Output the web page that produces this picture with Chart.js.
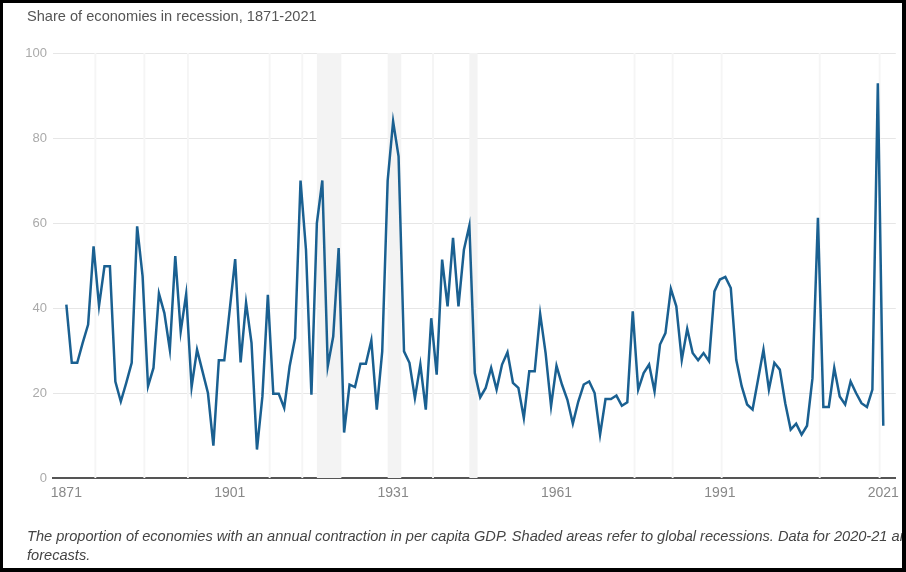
<!DOCTYPE html>
<html>
<head>
<meta charset="utf-8">
<script src="https://cdn.jsdelivr.net/npm/chart.js@4.4.1/dist/chart.umd.min.js"></script>
<style>
  html, body { margin: 0; padding: 0; background: #fff; }
  #wrap { position: relative; width: 906px; height: 572px; overflow: hidden; font-family: "Liberation Sans", Arial, sans-serif; }
  #chart { position: absolute; left: 0; top: 0; }
  #title { position: absolute; left: 27px; top: 8px; font-size: 14.6px; color: #555; white-space: nowrap; }
  #note { position: absolute; left: 27px; top: 527px; width: 925px; font-size: 14.6px; line-height: 19px; font-style: italic; color: #444; }
  #frame { position: absolute; left: 0; top: 0; right: 0; bottom: 0; border-style: solid; border-color: #000; border-width: 3px 4px 4px 3px; pointer-events: none; }
</style>
</head>
<body>
<div id="wrap">
  <canvas id="chart" width="906" height="572"></canvas>
  <div id="title">Share of economies in recession, 1871-2021</div>
  <div id="note">The proportion of economies with an annual contraction in per capita GDP. Shaded areas refer to global recessions. Data for 2020-21 are forecasts.</div>
  <div id="frame"></div>
</div>
<script>
// years 1871..2021
var firstYear = 1871;
var lastYear = 2021;

// share of economies in recession (%), one value per year
var share = [
    40.8, 27.1, 27.1, 31.8, 36.1, 54.5, 40.5, 49.8, 49.8, 22.7,   // 1871-1880
    18.0, 22.4, 27.1, 59.2, 47.5, 21.6, 25.9, 43.4, 38.8, 30.2,   // 1881-1890
    52.2, 34.5, 43.3, 21.4, 30.2, 25.1, 20.0, 7.6, 27.7, 27.7,    // 1891-1900
    39.6, 51.5, 27.2, 41.2, 31.8, 6.7, 19.2, 43.1, 19.8, 19.8,    // 1901-1910
    16.5, 26.3, 32.9, 70.0, 53.7, 19.6, 60.0, 70.0, 26.3, 33.3,   // 1911-1920
    54.1, 10.7, 22.0, 21.4, 26.9, 26.9, 32.4, 16.1, 29.8, 70.0,   // 1921-1930
    83.9, 75.7, 29.8, 27.1, 18.8, 26.7, 16.1, 37.6, 24.3, 51.4,   // 1931-1940
    40.4, 56.5, 40.4, 53.7, 59.4, 24.7, 19.0, 21.2, 25.9, 20.8,   // 1941-1950
    26.7, 29.6, 22.4, 21.2, 14.1, 25.1, 25.1, 38.6, 29.4, 16.9,   // 1951-1960
    26.4, 22.0, 18.4, 12.8, 18.0, 22.0, 22.7, 20.0, 10.2, 18.6,   // 1961-1970
    18.6, 19.4, 17.0, 17.8, 39.2, 20.8, 24.7, 26.7, 20.4, 31.4,   // 1971-1980
    34.1, 44.5, 40.4, 27.8, 35.1, 29.4, 27.7, 29.4, 27.5, 43.9,   // 1981-1990
    46.7, 47.3, 44.7, 27.8, 21.6, 17.3, 16.1, 23.1, 30.2, 20.8,   // 1991-2000
    27.1, 25.5, 17.6, 11.4, 12.8, 10.2, 12.3, 23.5, 61.2, 16.7,   // 2001-2010
    16.7, 25.9, 19.2, 17.3, 22.7, 20.0, 17.6, 16.7, 20.8, 92.9,   // 2011-2020
    12.3                                                          // 2021
];

var xTicks = [1871, 1901, 1931, 1961, 1991, 2021];
var yTicks = [0, 20, 40, 60, 80, 100];

// global recessions: [first year, last year]
var recessions = [
    [1876, 1876], [1885, 1885], [1893, 1893], [1908, 1908], [1914, 1914],
    [1917, 1921], [1930, 1932], [1938, 1938], [1945, 1946],
    [1975, 1975], [1982, 1982], [1991, 1991], [2009, 2009], [2020, 2020]
];

var points = share.map(function (v, i) {
    return {x: firstYear + i, y: v};
});

var shadePlugin = {
    id: 'recessionShade',
    beforeDatasetsDraw: function (chart) {
        var ctx = chart.ctx;
        var xs = chart.scales.x;
        var area = chart.chartArea;
        ctx.save();
        recessions.forEach(function (r) {
            var single = r[0] === r[1];
            var x0 = xs.getPixelForValue(r[0] + (single ? 0.15 : 0));
            var x1 = xs.getPixelForValue(r[1] + 0.5);
            ctx.fillStyle = single ? '#f5f5f5' : '#f3f3f3';
            ctx.fillRect(x0, area.top, x1 - x0, area.bottom - area.top);
        });
        ctx.restore();
    }
};

new Chart(document.getElementById('chart'), {
    type: 'line',
    data: {
        datasets: [{
            data: points,
            borderColor: '#1a6091',
            borderWidth: 2.5,
            pointRadius: 0,
            tension: 0,
            fill: false
        }]
    },
    plugins: [shadePlugin],
    options: {
        responsive: false,
        animation: false,
        layout: {padding: {top: 53, right: 10, bottom: 64, left: 0}},
        plugins: {
            legend: {display: false},
            tooltip: {enabled: false}
        },
        scales: {
            x: {
                type: 'linear',
                min: firstYear - 2.45,
                max: lastYear + 2.3,
                afterBuildTicks: function (scale) {
                    scale.ticks = xTicks.map(function (v) { return {value: v}; });
                },
                afterFit: function (scale) { scale.height = 30; },
                grid: {display: false, drawTicks: false},
                border: {display: true, color: '#555', width: 2},
                ticks: {
                    autoSkip: false,
                    maxRotation: 0,
                    padding: 7,
                    color: '#888',
                    font: {family: '"Liberation Sans", Arial, sans-serif', size: 14},
                    callback: function (v) { return String(v); }
                }
            },
            y: {
                min: 0,
                max: 100,
                afterBuildTicks: function (scale) {
                    scale.ticks = yTicks.map(function (v) { return {value: v}; });
                },
                afterFit: function (scale) { scale.width = 53; },
                grid: {color: '#e6e6e6', drawTicks: false},
                border: {display: false},
                ticks: {
                    padding: 6,
                    color: '#aaa',
                    font: {family: '"Liberation Sans", Arial, sans-serif', size: 13}
                }
            }
        }
    }
});
</script>
</body>
</html>
